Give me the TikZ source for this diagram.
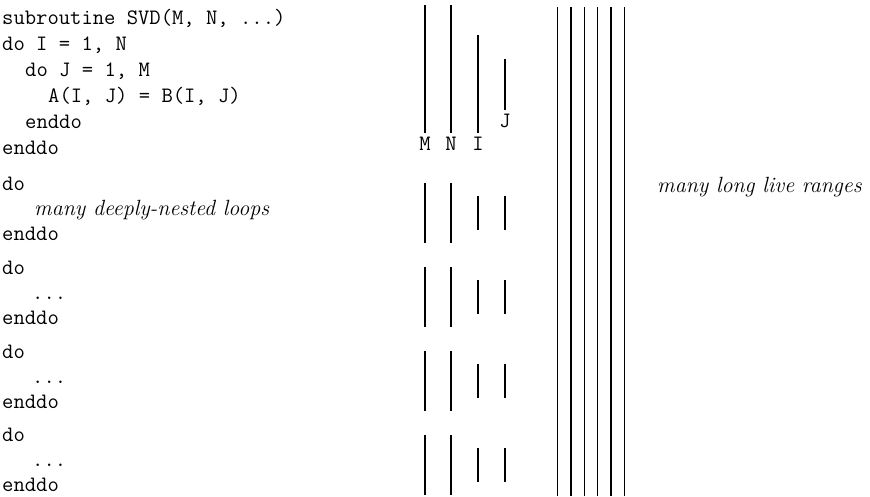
\documentclass[tikz,border=0pt]{standalone}
\usepackage{fontspec}
\begin{document}
\begin{tikzpicture}[x=1pt,y=-1pt,
  code/.style={anchor=base west, inner sep=0pt, font=\fontsize{22}{26}\selectfont\ttfamily},
  note/.style={anchor=base west, inner sep=0pt, font=\fontsize{22}{26}\selectfont\itshape},
  lbl/.style={anchor=center, inner sep=0pt, font=\fontsize{22}{26}\selectfont\ttfamily},
  live/.style={line width=1.2pt}]
\useasboundingbox (0,0) rectangle (870,496);
% code block 1
\node[code] (c1) at (2,24) {subroutine SVD(M, N, ...)};
\node[code] (c2) at (2,50) {do I = 1, N};
\node[code] (c3) at (25,76) {do J = 1, M};
\node[code] (c4) at (48,102) {A(I, J) = B(I, J)};
\node[code] (c5) at (25,128) {enddo};
\node[code] (c6) at (2,154) {enddo};
% groups
\node[code] (g1a) at (2,190) {do};
\node[note] (g1b) at (34,215) {many deeply-nested loops};
\node[code] (g1c) at (2,240) {enddo};
\foreach \k/\dy in {2/84,3/168,4/251}{
  \node[code] (g\k a) at (2,190+\dy) {do};
  \node[code] (g\k b) at (32,215+\dy) {...};
  \node[code] (g\k c) at (2,240+\dy) {enddo};
}
% short live ranges, block 1
\draw[live] (425,5) -- (425,133);
\draw[live] (451,5) -- (451,133);
\draw[live] (478,35) -- (478,133);
\draw[live] (505,59) -- (505,110);
\node[lbl] (lM) at (425,144) {M};
\node[lbl] (lN) at (451,144) {N};
\node[lbl] (lI) at (478,144) {I};
\node[lbl] (lJ) at (505,121) {J};
% short live ranges, groups
\foreach \dy in {0,84,168,252}{
  \draw[live] (425,183+\dy) -- (425,243+\dy);
  \draw[live] (451,183+\dy) -- (451,243+\dy);
  \draw[live] (478,196+\dy) -- (478,230+\dy);
  \draw[live] (505,196+\dy) -- (505,230+\dy);
}
% long live ranges
\foreach \x in {557.7,571,584.3,597.7,611,624.3}{
  \draw[live] (\x,7) -- (\x,496);
}
\node[note] (many) at (657,192) {many long live ranges};
\end{tikzpicture}
\end{document}
